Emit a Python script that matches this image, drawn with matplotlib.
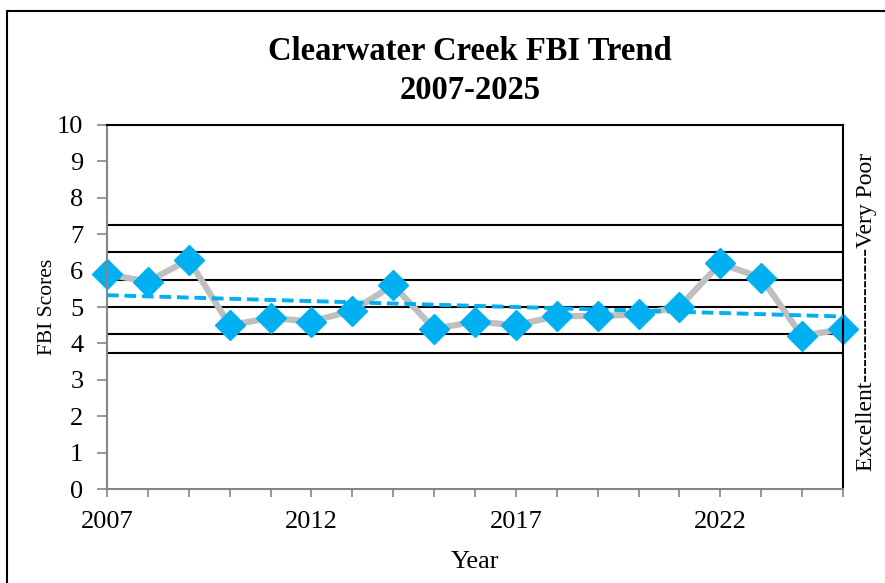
import numpy as np
import matplotlib.pyplot as plt
from matplotlib.patches import Rectangle
from matplotlib.ticker import FixedLocator, MultipleLocator

plt.rcParams['font.family'] = ['Liberation Serif', 'DejaVu Serif']

years = np.arange(2007, 2026)
fbi_scores = [5.9, 5.7, 6.3, 4.5, 4.7, 4.6, 4.9, 5.6, 4.4, 4.6,
              4.5, 4.75, 4.75, 4.8, 5.0, 6.2, 5.8, 4.2, 4.4]
year_labels = [2007, 2012, 2017, 2022]
# FBI rating class boundaries
class_limits = [3.75, 4.25, 5.0, 5.75, 6.5, 7.25]

blue = '#00B0F0'
axis_grey = '#868686'

fig = plt.figure(figsize=(8.85, 5.83), dpi=100)
ax = fig.add_axes([0.1209, 0.1612, 0.8316, 0.6244])

# frame around the whole chart
fig.patches.append(Rectangle((7 / 885, -0.1), 1.2, 1 - 11 / 583 + 0.1,
                             transform=fig.transFigure, fill=False,
                             edgecolor='black', lw=1.5))

for lim in class_limits:
    ax.axhline(lim, color='black', lw=1.5, zorder=1)

ax.plot(years, fbi_scores, color='#BFBFBF', lw=4.5, zorder=2,
        marker='D', markersize=15.5, markerfacecolor=blue,
        markeredgecolor=blue, clip_on=False)

# linear trend
coef = np.polyfit(years, fbi_scores, 1)
ax.plot(years, np.polyval(coef, years), color=blue, lw=2.8,
        linestyle=(0, (3, 1.5)), zorder=3)

ax.set_xlim(2007, 2025)
ax.set_ylim(0, 10)
ax.xaxis.set_major_locator(FixedLocator(year_labels))
ax.xaxis.set_minor_locator(MultipleLocator(1))
ax.yaxis.set_major_locator(MultipleLocator(1))
ax.tick_params(axis='both', which='both', direction='out', color=axis_grey,
               labelsize=19)
ax.tick_params(axis='x', which='both', length=6, width=1.2)
ax.tick_params(axis='x', which='major', pad=10)
ax.tick_params(axis='y', length=7, width=1.2, pad=10)

ax.spines['left'].set_color(axis_grey)
ax.spines['bottom'].set_color(axis_grey)
for s in ax.spines.values():
    s.set_linewidth(1.5)

ax.set_xlabel('Year', fontsize=19, labelpad=13)
ax.set_ylabel('FBI Scores', fontsize=15.5)
ax.yaxis.set_label_coords(-0.068, 0.5)

fig.text(0.531, 1 - 51 / 583, 'Clearwater Creek FBI Trend',
         ha='center', va='center', fontsize=23.5, fontweight='bold')
fig.text(0.531, 1 - 91 / 583, '2007-2025',
         ha='center', va='center', fontsize=23.5, fontweight='bold')

fig.text(0.979, 1 - 312 / 583, 'Excellent-----------------Very Poor',
         rotation=90, ha='center', va='center', fontsize=17)

fig.savefig('out.png', dpi=100)
